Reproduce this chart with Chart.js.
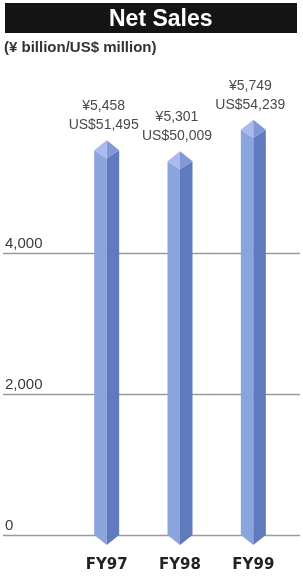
<!DOCTYPE html>
<html>
<head>
<meta charset="utf-8">
<script src="https://cdn.jsdelivr.net/npm/chart.js@4.4.0/dist/chart.umd.min.js"></script>
<style>
  html, body { margin: 0; padding: 0; background: #fff; width: 303px; height: 577px; overflow: hidden; }
  #wrap { position: absolute; left: 0; top: 0; width: 303px; height: 577px; }
  #titlebar { position: absolute; left: 5px; top: 3px; width: 292px; height: 30px; background: #141414; }
  #titlebar span { position: absolute; left: 104px; top: 1px; color: #fff; font: bold 23px "Liberation Sans", Arial, sans-serif; line-height: 28px; }
  #subtitle { position: absolute; left: 4px; top: 38px; color: #333; font: 600 15px "Liberation Sans", Arial, sans-serif; line-height: 18px; }
  canvas { position: absolute; left: 0; top: 0; }
</style>
</head>
<body>
<div id="wrap">
  <canvas id="c" width="303" height="577"></canvas>
  <div id="titlebar"><span>Net Sales</span></div>
  <div id="subtitle">(¥ billion/US$ million)</div>
</div>
<script>
const categories = ["FY97", "FY98", "FY99"];
const yenBillion = [5458, 5301, 5749];
const usdMillion = ["51,495", "50,009", "54,239"];
const yTicks = [0, 2000, 4000];

const fmt = v => v.toLocaleString("en-US");

const gridPlugin = {
  id: "fullGrid",
  beforeDatasetsDraw(chart) {
    const ctx = chart.ctx;
    const y = chart.scales.y;
    ctx.save();
    yTicks.forEach(t => {
      const py = Math.round(y.getPixelForValue(t)) + 0.5;
      ctx.strokeStyle = "#9a9a9a";
      ctx.lineWidth = 1.5;
      ctx.beginPath();
      ctx.moveTo(3, py);
      ctx.lineTo(300, py);
      ctx.stroke();
      ctx.fillStyle = "#3a3a3a";
      ctx.font = "15px 'Liberation Sans', Arial, sans-serif";
      ctx.textAlign = "left";
      ctx.textBaseline = "alphabetic";
      ctx.fillText(fmt(t), 5, py - 6);
    });
    ctx.restore();
  }
};

const barPlugin = {
  id: "bars3d",
  afterDatasetsDraw(chart) {
    const ctx = chart.ctx;
    const meta = chart.getDatasetMeta(0);
    ctx.save();
    meta.data.forEach((bar, i) => {
      const x = bar.x, y = bar.y, base = bar.base, w = bar.width, h = w / 2;
      const capUp = 10, capDown = 8, tip = 10;
      ctx.fillStyle = "#8aa5de";
      ctx.beginPath();
      ctx.moveTo(x - h, y);
      ctx.lineTo(x, y + capDown);
      ctx.lineTo(x, base + tip);
      ctx.lineTo(x - h, base);
      ctx.closePath();
      ctx.fill();
      ctx.fillStyle = "#5f7bbd";
      ctx.beginPath();
      ctx.moveTo(x, y + capDown);
      ctx.lineTo(x + h, y);
      ctx.lineTo(x + h, base);
      ctx.lineTo(x, base + tip);
      ctx.closePath();
      ctx.fill();
      ctx.fillStyle = "#aab9ee";
      ctx.beginPath();
      ctx.moveTo(x - h, y);
      ctx.lineTo(x, y - capUp);
      ctx.lineTo(x, y + capDown);
      ctx.closePath();
      ctx.fill();
      ctx.fillStyle = "#8098d8";
      ctx.beginPath();
      ctx.moveTo(x, y - capUp);
      ctx.lineTo(x + h, y);
      ctx.lineTo(x, y + capDown);
      ctx.closePath();
      ctx.fill();
      ctx.fillStyle = "#4a4a4a";
      ctx.font = "14px 'Liberation Sans', Arial, sans-serif";
      ctx.textAlign = "center";
      ctx.textBaseline = "middle";
      ctx.fillText("¥" + fmt(yenBillion[i]), x - 3, y - 44);
      ctx.fillText("US$" + usdMillion[i], x - 3, y - 25);
    });
    ctx.restore();
  }
};

new Chart(document.getElementById("c"), {
  type: "bar",
  data: {
    labels: categories,
    datasets: [{
      data: yenBillion,
      backgroundColor: "rgba(0,0,0,0)",
      borderWidth: 0,
      barThickness: 25
    }]
  },
  options: {
    responsive: false,
    animation: false,
    events: [],
    layout: { padding: { left: 70, right: 13, top: 112, bottom: 0 } },
    plugins: { legend: { display: false }, tooltip: { enabled: false }, title: { display: false } },
    scales: {
      x: {
        grid: { display: false, drawTicks: false },
        border: { display: false },
        afterFit(scale) { scale.height = 42; },
        ticks: {
          padding: 21,
          color: "#222",
          font: { family: "'DejaVu Sans', sans-serif", weight: "bold", size: 15 }
        }
      },
      y: {
        display: false,
        min: 0,
        max: 6000
      }
    }
  },
  plugins: [gridPlugin, barPlugin]
});
</script>
</body>
</html>
